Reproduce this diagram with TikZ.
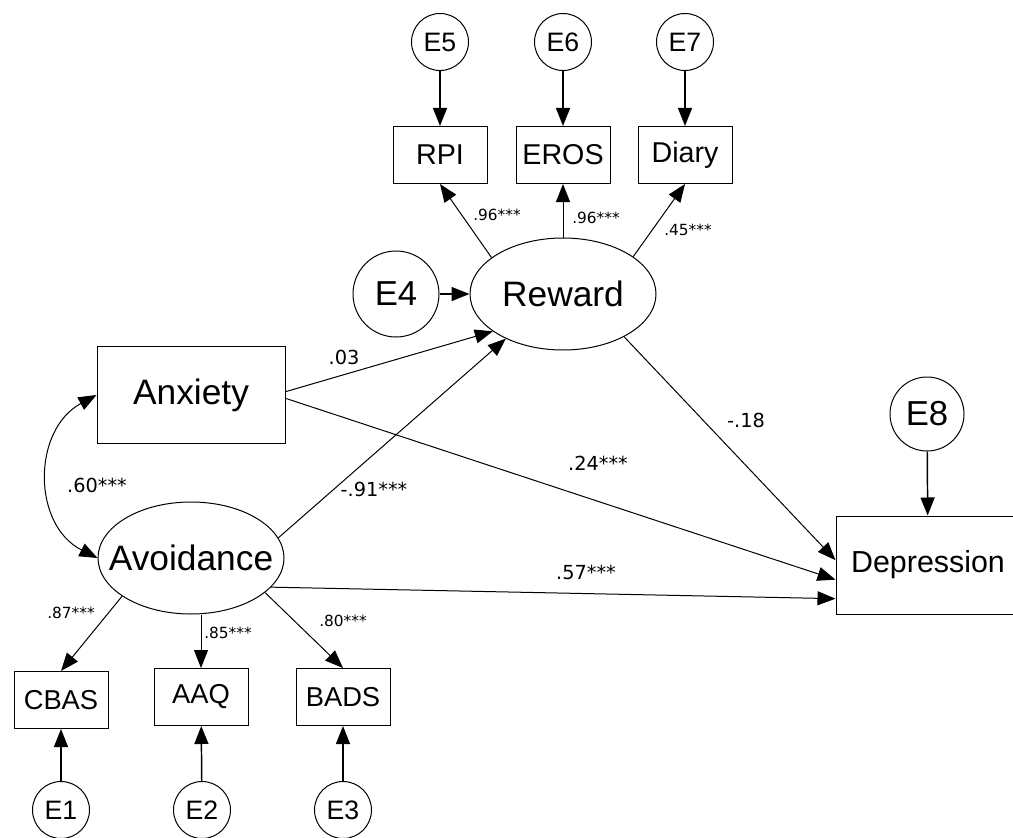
\documentclass[tikz,border=0pt]{standalone}
\usepackage{fontspec}
\setmainfont{Liberation Sans}
\newfontfamily\lblfont{DejaVu Sans}
\usetikzlibrary{arrows.meta,shapes.geometric}

\tikzset{every picture/.style={line width=0.75pt}}
\tikzset{
  latent/.style={draw,ellipse,inner sep=0pt,minimum width=139.5pt,minimum height=84pt,font=\fontsize{26.5}{30}\selectfont},
  errc/.style={draw,circle,inner sep=0pt,minimum size=42.75pt,font=\fontsize{20}{24}\selectfont},
  obsbox/.style={draw,rectangle,inner sep=0pt,minimum width=70.5pt,minimum height=42.75pt,font=\fontsize{21.5}{24}\selectfont},
  regarrow/.style={-{Triangle[length=13.5pt,width=10.5pt]}},
  errarrow/.style={-{Triangle[length=13.5pt,width=10.5pt]},line width=1.1pt},
  coef/.style={font=\lblfont\fontsize{14.5}{16}\selectfont,inner sep=0.75pt},
  loadlbl/.style={font=\lblfont\fontsize{11.5}{14}\selectfont,inner sep=0.75pt},
}

\begin{document}
\begin{tikzpicture}[x=0.75pt,y=0.75pt,yscale=-1,xscale=1]
    \useasboundingbox (0,0) rectangle (1013,838);

    %Shape: Reward part
    \node (rew) at (563,294) [latent] {\makebox[0pt]{Reward}};
    \node (e4) at (396,294) [errc,minimum size=64.5pt,font=\fontsize{26}{30}\selectfont] {E4};
    \node (rpi) at (440,155) [obsbox] {RPI};
    \node (eros) at (563,155) [obsbox] {EROS};
    \node (diary) at (685,155) [obsbox] {Diary};
    \node (e5) at (440,42) [errc] {E5};
    \node (e6) at (563,42) [errc] {E6};
    \node (e7) at (685,42) [errc] {E7};

    %Shape: Anxiety and Avoidance
    \node (anx) at (191,395) [draw,inner sep=0pt,minimum width=141pt,minimum height=72.75pt,font=\fontsize{26.5}{30}\selectfont] {Anxiety};
    \node (avo) at (191,558) [latent] {\makebox[0pt]{Avoidance}};
    \node (cbas) at (61,700) [obsbox,font=\fontsize{20.5}{24}\selectfont] {CBAS};
    \node (aaq) at (201,697) [obsbox,font=\fontsize{20.5}{24}\selectfont] {AAQ};
    \node (bads) at (343,697) [obsbox,font=\fontsize{20.5}{24}\selectfont] {BADS};
    \node (e1) at (61,810) [errc] {E1};
    \node (e2) at (202,810) [errc] {E2};
    \node (e3) at (343,810) [errc] {E3};

    %Shape: Depression
    \node (dep) at (928,565) [draw,inner sep=0pt,minimum width=138pt,minimum height=73.5pt,font=\fontsize{22.8}{26}\selectfont] {Depression};
    \node (e8) at (927,414) [errc,minimum size=55.5pt,font=\fontsize{26}{30}\selectfont] {E8};

    % Connectors
    \draw [errarrow] (e5) -- (rpi);
    \draw [errarrow] (e6) -- (eros);
    \draw [errarrow] (e7) -- (diary);
    \draw [regarrow] (rew.153) -- (rpi.south);
    \draw [regarrow] (rew) -- (eros);
    \draw [regarrow] (rew.28) -- (diary.south);
    \draw [errarrow] (e4) -- (rew);
    \draw [regarrow] (anx.2) -- (rew.208);
    \draw [regarrow] (avo.13) -- (rew.218);
    \draw [regarrow] (anx.358) -- (dep.189);
    \draw [regarrow] (avo.340) -- (dep.200);
    \draw [regarrow] (rew.325) -- (dep.177);
    \draw [errarrow] (e8) -- (dep);
    \draw [{Triangle[length=13.5pt,width=10.5pt]}-{Triangle[length=13.5pt,width=10.5pt]}] (anx.west) .. controls (32,430) and (32,525) .. (avo.west);
    \draw [regarrow] (avo.209) -- (cbas.north);
    \draw [regarrow] (avo.south -| aaq.north) -- (aaq.north);
    \draw [regarrow] (avo.335) -- (bads.north);
    \draw [errarrow] (e1) -- (cbas);
    \draw [errarrow] (e2) -- (aaq);
    \draw [errarrow] (e3) -- (bads);

    % Text Node
    \node (l1) at (497,215) [loadlbl] {.96***};
    \node (l2) at (596,218) [loadlbl] {.96***};
    \node (l3) at (688,230) [loadlbl] {.45***};
    \node (l4) at (344,357) [coef] {.03};
    \node (l5) at (374,489) [coef] {-.91***};
    \node (l6) at (97,485) [coef] {.60***};
    \node (l7) at (598,463) [coef] {.24***};
    \node (l8) at (586,572) [coef] {.57***};
    \node (l9) at (746,420) [coef] {-.18};
    \node (l10) at (71,613) [loadlbl] {.87***};
    \node (l11) at (228,633) [loadlbl] {.85***};
    \node (l12) at (343,621) [loadlbl] {.80***};
\end{tikzpicture}
\end{document}
